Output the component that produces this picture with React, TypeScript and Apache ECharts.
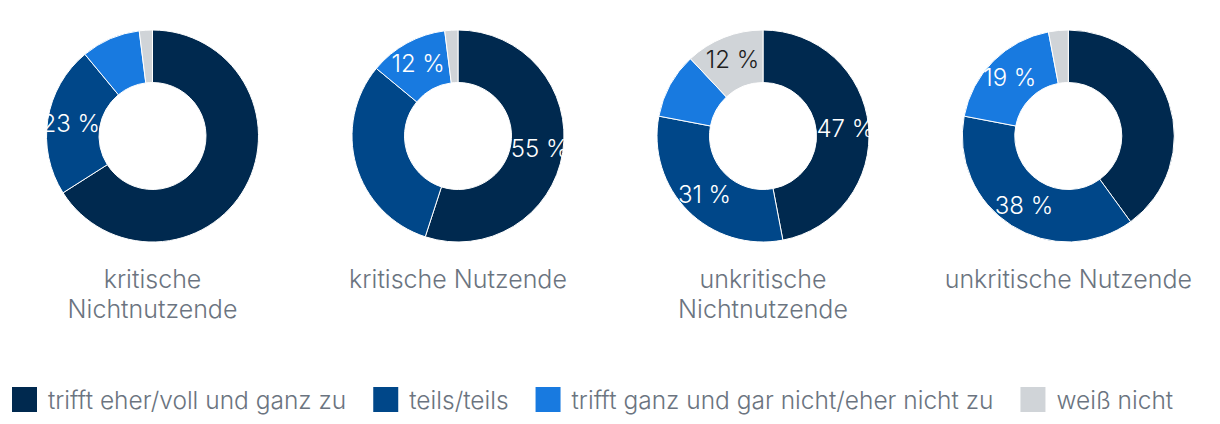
import React, { useEffect, useRef } from "react";
import * as echarts from "echarts";

const categories = [
  "kritische\nNichtnutzende",
  "kritische Nutzende",
  "unkritische\nNichtnutzende",
  "unkritische Nutzende",
];
const answers = [
  "trifft eher/voll und ganz zu",
  "teils/teils",
  "trifft ganz und gar nicht/eher nicht zu",
  "weiß nicht",
];
const agreeValues = [66, 55, 47, 40];
const partlyValues = [23, 31, 31, 38];
const disagreeValues = [9, 12, 10, 19];
const dontKnowValues = [2, 2, 12, 3];
// which slices carry a percentage label in the original
const labelShown = [
  [false, true, false, false],
  [true, false, true, false],
  [true, true, false, true],
  [false, true, true, false],
];

const COLORS = ["#00294f", "#004789", "#187ae0", "#d0d4d8"];
const FONT = "Inter";
const TEXT_GRAY = "#6b7480";

export default function App() {
  const ref = useRef<HTMLDivElement>(null);
  useEffect(() => {
    if (!ref.current) return;
    const chart = echarts.init(ref.current, null, { renderer: "svg" });
    const centersX = [152.5, 458, 763, 1068.3];
    const cy = 136;
    const series = categories.map((cat, i) => {
      const vals = [agreeValues[i], partlyValues[i], disagreeValues[i], dontKnowValues[i]];
      return {
        type: "pie",
        name: cat,
        center: [centersX[i], cy],
        radius: [53.5, 106],
        startAngle: 90,
        clockwise: true,
        avoidLabelOverlap: false,
        silent: true,
        itemStyle: { borderColor: "#ffffff", borderWidth: 1 },
        label: {
          position: "inside",
          formatter: "{c} %",
          fontFamily: FONT,
          fontWeight: 300,
          fontSize: 24,
          color: "#ffffff",
        },
        labelLine: { show: false },
        emphasis: { disabled: true },
        data: vals.map((v, j) => ({
          name: answers[j],
          value: v,
          label: {
            show: labelShown[i][j],
            color: j === 3 ? "#1e1e1e" : "#ffffff",
          },
        })),
      };
    });
    const graphics = categories.map((cat, i) => ({
      type: "text",
      x: centersX[i],
      y: 264,
      style: {
        text: cat,
        align: "center",
        verticalAlign: "top",
        fontFamily: FONT,
        fontWeight: 300,
        fontSize: 25,
        lineHeight: 30,
        fill: TEXT_GRAY,
      },
    }));
    chart.setOption({
      animation: false,
      color: COLORS,
      legend: {
        left: 10,
        top: 385,
        padding: 0,
        icon: "rect",
        itemWidth: 27,
        itemHeight: 27,
        itemGap: 25,
        selectedMode: false,
        data: answers,
        textStyle: {
          fontFamily: FONT,
          fontWeight: 300,
          fontSize: 24.5,
          color: TEXT_GRAY,
          padding: [0, 0, 0, 5],
        },
      },
      graphic: graphics,
      series,
    });
    return () => chart.dispose();
  }, []);
  return (
    <div
      ref={ref}
      style={{ position: "fixed", left: 0, top: 0, width: 1220, height: 424, background: "#fff" }}
    />
  );
}
